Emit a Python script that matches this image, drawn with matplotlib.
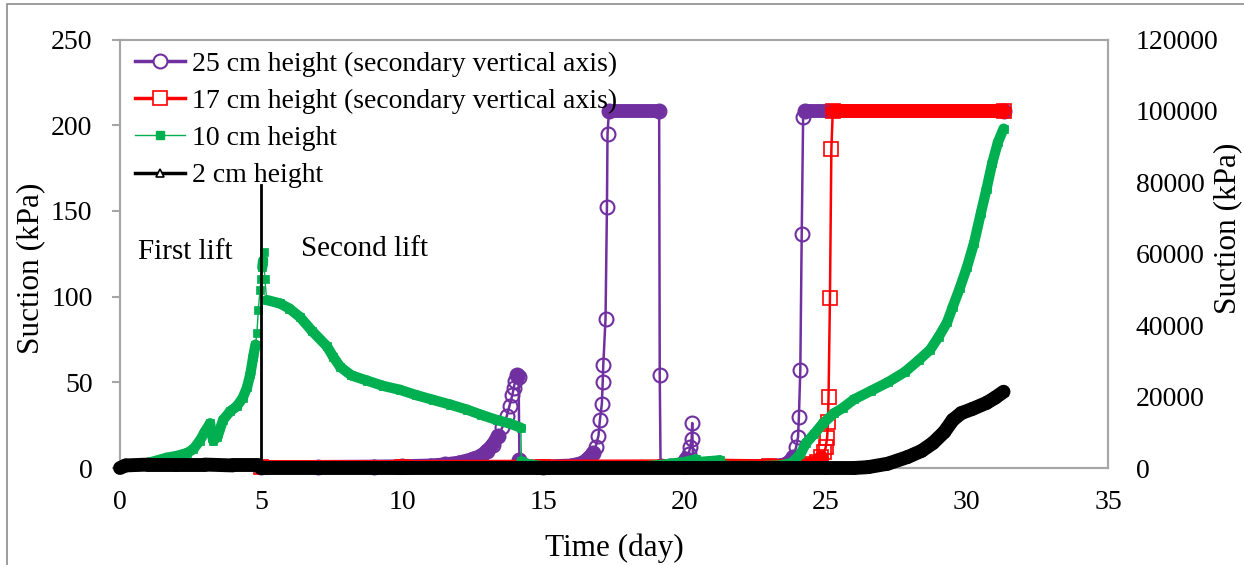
import numpy as np
import matplotlib
matplotlib.use("Agg")
import matplotlib.pyplot as plt
from matplotlib.collections import LineCollection
from matplotlib.lines import Line2D
from matplotlib.patches import Rectangle

# ---- data -------------------------------------------------------------
# 25 cm height (secondary axis, kPa)
t25 = [5.0, 7.0, 9.0, 10.0, 11.0, 11.5, 12.0, 12.5, 12.8, 13.0, 13.2, 13.4,
       13.55, 13.7, 13.8, 13.9, 13.95, 14.0, 14.06, 14.12, 14.15, 14.3, 15.0,
       16.0, 16.4, 16.6, 16.76, 16.85, 16.95, 17.0, 17.07, 17.1, 17.12, 17.2,
       17.25, 17.27, 17.32, 19.1, 19.12, 19.15, 19.5, 19.9, 20.05, 20.15, 20.2,
       20.25, 20.27, 20.3, 20.6, 23.0, 23.6, 23.85, 23.95, 24.02, 24.05, 24.1,
       24.15, 24.2, 24.25, 31.3]
v25 = [300, 300, 400, 500, 700, 1000, 1500, 2500, 3500, 4800, 6500, 9000,
       11500, 14500, 17500, 20500, 22500, 24500, 26000, 25500, 2200, 500, 400,
       700, 1500, 2800, 4100, 6000, 9000, 13400, 18000, 24100, 28900, 41800,
       73200, 93400, 100000, 100000, 26000, 500, 500, 1000, 2500, 4000, 6000,
       8100, 12600, 1000, 500, 500, 1000, 3000, 5800, 8700, 14300, 27400,
       65600, 98400, 100000, 100000]

# 17 cm height (secondary axis, kPa)
t17 = [5.0, 10.0, 15.0, 20.0, 21.0, 23.0, 24.0, 24.5, 24.7, 24.85, 24.95,
       25.0, 25.05, 25.08, 25.1, 25.15, 25.2, 25.25, 31.3]
v17 = [300, 300, 400, 500, 700, 500, 600, 1000, 1800, 3000, 4500,
       5800, 8500, 12900, 19900, 47600, 89200, 100000, 100000]

# 10 cm height (primary axis, kPa)
t10 = [0.0, 0.5, 1.0, 1.66, 2.0, 2.37, 2.6, 2.83, 3.0, 3.19, 3.3, 3.45, 3.65,
       3.9, 4.14, 4.35, 4.5, 4.62, 4.72, 4.8, 4.85, 4.9, 4.96, 5.0, 5.04, 5.07,
       5.1, 5.13, 5.2, 5.67, 6.0, 6.38, 6.8, 7.33, 7.55, 7.8, 8.2, 8.75, 9.3,
       9.92, 10.5, 11.1, 11.7, 12.3, 12.8, 13.35, 13.8, 14.2, 14.22, 14.5,
       15.0, 16.0, 17.0, 17.8, 18.5, 19.0, 19.5, 20.0, 20.4, 20.5, 20.9, 21.25,
       21.3, 21.8, 22.5, 23.4, 23.8, 24.1, 24.3, 24.6, 24.9, 25.3, 25.6, 26.0,
       26.6, 27.2, 27.8, 28.3, 28.7, 29.0, 29.3, 29.5, 29.75, 30.0, 30.25,
       30.5, 30.7, 30.9, 31.1, 31.3]
v10 = [0.0, 1.5, 3.0, 6.0, 7.0, 8.7, 11.0, 16.0, 21.0, 26.0, 16.0, 18.0, 28.0,
       33.0, 36.0, 41.0, 47.0, 55.0, 65.0, 72.0, 79.0, 92.0, 104.0, 110.0,
       117.0, 121.0, 126.0, 110.0, 98.0, 96.0, 93.0, 88.0, 80.0, 71.0, 65.0,
       59.0, 54.0, 51.0, 48.0, 45.6, 42.5, 39.7, 37.0, 34.0, 31.0, 28.0, 26.0,
       23.5, 4.0, 2.0, 1.0, 0.5, 0.5, 0.6, 1.0, 1.5, 2.5, 3.5, 5.0, 3.5, 4.0,
       4.5, 1.5, 1.0, 1.0, 1.5, 3.0, 8.0, 14.5, 20.0, 26.0, 32.0, 35.0, 40.0,
       45.0, 50.0, 56.0, 63.0, 69.0, 76.5, 85.0, 94.0, 105.0, 117.0, 131.0,
       149.0, 163.0, 178.0, 190.0, 198.0]

# 2 cm height (primary axis, kPa)
t2 = [0.0, 0.2, 1.0, 2.0, 3.0, 4.0, 4.9, 5.0, 10.0, 15.0, 20.0, 25.0, 26.0,
      26.5, 27.2, 27.9, 28.4, 28.8, 29.2, 29.5, 29.8, 30.2, 30.7, 31.0, 31.3]
v2 = [0.0, 1.5, 2.0, 2.0, 2.0, 1.5, 1.5, 0.0, 0.0, 0.0, 0.0, 0.0, 0.0,
      0.5, 2.5, 6.4, 10.0, 14.6, 21.0, 28.0, 32.0, 34.5, 38.0, 41.0, 44.5]

lift_day = 5.0
lift_top = 165.0

x_ticks = [0, 5, 10, 15, 20, 25, 30, 35]
y_ticks = [0, 50, 100, 150, 200, 250]
y2_ticks = [0, 20000, 40000, 60000, 80000, 100000, 120000]

PURPLE = "#7030A0"
RED = "#FF0000"
GREEN = "#00B050"
BLACK = "#000000"
AXIS_GREY = "#A6A6A6"

plt.rcParams["font.family"] = ["Liberation Serif", "DejaVu Serif"]

fig = plt.figure(figsize=(12.44, 5.65), dpi=100)
fig.subplots_adjust(left=120 / 1244, right=1108 / 1244,
                    top=1 - 39.5 / 565, bottom=1 - 468 / 565)
ax = fig.add_subplot(111)
ax2 = ax.twinx()
ax.set_zorder(ax2.get_zorder() + 1)
ax.patch.set_visible(False)

ax.set_xlim(0, 35)
ax.set_ylim(0, 250)
ax2.set_ylim(0, 120000)


def draw_series(a, t, v, color, band_w, line_w, marker, ms, mfc, mew, z,
                steep=1.5):
    t = np.asarray(t, float)
    v = np.asarray(v, float)
    a.plot(t, v, color=color, lw=line_w, marker=marker, ms=ms, mfc=mfc,
           mec=color, mew=mew, clip_on=False, zorder=z)
    # dense logging makes the slowly varying stretches look like a solid band
    pts = a.transData.transform(np.column_stack([t, v]))
    d = np.diff(pts, axis=0)
    flat = np.abs(d[:, 1]) <= steep * np.abs(d[:, 0]) + 1.0
    segs = np.stack([np.column_stack([t[:-1], v[:-1]]),
                     np.column_stack([t[1:], v[1:]])], axis=1)[flat]
    lc = LineCollection(segs, linewidths=band_w, colors=color,
                        capstyle="round", joinstyle="round", zorder=z + 0.1)
    lc.set_clip_on(False)
    a.add_collection(lc)


draw_series(ax2, t25, v25, PURPLE, 10, 1.8, "o", 10, "none", 1.5, 2)
draw_series(ax2, t17, v17, RED, 10, 1.8, "s", 9.5, "none", 1.2, 3)
draw_series(ax, t10, v10, GREEN, 7.4, 1.0, "s", 5.5, GREEN, 0.5, 2, steep=7)
draw_series(ax, t2, v2, BLACK, 10, 1.8, "^", 6, BLACK, 0.5, 3)

ax.plot([lift_day, lift_day], [0, lift_top], color=BLACK, lw=2, zorder=4)
ax.text(0.65, 126, "First lift", fontsize=21, va="center", ha="left")
ax.text(6.4, 128, "Second lift", fontsize=21, va="center", ha="left")

# axes styling
for a in (ax, ax2):
    for s in a.spines.values():
        s.set_color(AXIS_GREY)
        s.set_linewidth(1.5)
ax.set_xticks(x_ticks)
ax.set_yticks(y_ticks)
ax2.set_yticks(y2_ticks)
ax.tick_params(axis="x", length=0, pad=16, labelsize=20)
ax.tick_params(axis="y", length=5.8, width=1.5, color=AXIS_GREY, pad=14,
               labelsize=20, direction="out")
ax2.tick_params(axis="y", length=0, pad=20, labelsize=20)

ax.set_xlabel("Time (day)", fontsize=22.5)
ax.set_ylabel("Suction (kPa)", fontsize=22.5)
ax2.set_ylabel("Suction (kPa)", fontsize=22.5)
ax.xaxis.set_label_coords(0.5, -0.152)
ax.yaxis.set_label_coords(-0.076, 0.465)
ax2.yaxis.set_label_coords(1.106, 0.56)

handles = [
    Line2D([], [], color=PURPLE, lw=2.5, marker="o", ms=10, mfc="white",
           mec=PURPLE, mew=1.5),
    Line2D([], [], color=RED, lw=2.5, marker="s", ms=9.5, mfc="white",
           mec=RED, mew=1.2),
    Line2D([], [], color=GREEN, lw=1.0, marker="s", ms=5.5, mfc=GREEN,
           mec=GREEN),
    Line2D([], [], color=BLACK, lw=2.5, marker="^", ms=6, mfc="white",
           mec=BLACK, mew=1.2),
]
labels = ["25 cm height (secondary vertical axis)",
          "17 cm height (secondary vertical axis)",
          "10 cm height", "2 cm height"]
ax.legend(handles, labels, loc="upper left", bbox_to_anchor=(0.015, 0.972),
          frameon=False, fontsize=20, handlelength=1.8, handletextpad=0.25,
          labelspacing=0.42, borderpad=0, borderaxespad=0)

# outer chart border
fig.patches.append(Rectangle((7 / 1244, -0.1), 1.2, 1 - 4 / 565 + 0.1,
                             transform=fig.transFigure, fill=False,
                             edgecolor="#8C8C8C", lw=1.2))

fig.savefig("out.png", dpi=100)
